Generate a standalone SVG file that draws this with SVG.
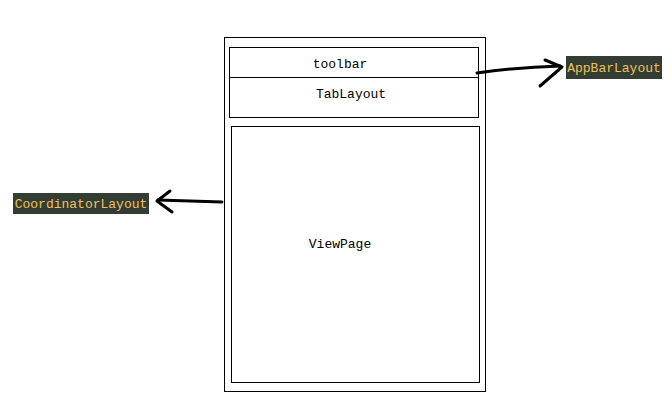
<svg xmlns="http://www.w3.org/2000/svg" width="672" height="400" viewBox="0 0 672 400">
<style>
.box{fill:none;stroke:#000;stroke-width:1}
.t{font-family:"Liberation Mono",monospace;font-size:13px;fill:#000;text-anchor:middle}
.lbl{font-family:"Liberation Mono",monospace;font-size:13px;fill:#f0c05a;text-anchor:middle}
.bg{fill:#333d33}
.arr{fill:none;stroke:#000;stroke-width:3;stroke-linecap:round;stroke-linejoin:round}
</style>
<rect width="672" height="400" fill="#fff"/>
<g id="coordinator-frame"><rect class="box" x="224.5" y="37.5" width="261" height="354"/></g>
<g id="appbar">
<rect class="box" x="229.5" y="47.5" width="249" height="70"/>
<line class="box" x1="229.5" y1="77.5" x2="478.5" y2="77.5"/>
</g>
<g id="toolbar"><text class="t" x="340" y="68">toolbar</text></g>
<g id="tablayout"><text class="t" x="351" y="98">TabLayout</text></g>
<g id="viewpage"><rect class="box" x="231.5" y="126.5" width="248" height="256"/><text class="t" x="340" y="248">ViewPage</text></g>
<g id="label-appbar"><rect class="bg" x="566" y="56" width="96" height="23"/><text class="lbl" x="614" y="72">AppBarLayout</text></g>
<g id="label-coordinator"><rect class="bg" x="13" y="193" width="136" height="21"/><text class="lbl" x="81" y="208">CoordinatorLayout</text></g>
<g id="connectors">
<path class="arr" d="M477 73 Q520 67 560 66"/>
<path class="arr" d="M545 60 L562 67 L540 86"/>
<path class="arr" d="M222 202 L158 200"/>
<path class="arr" d="M170 191 L157 201 L172 212"/>
</g>
</svg>
